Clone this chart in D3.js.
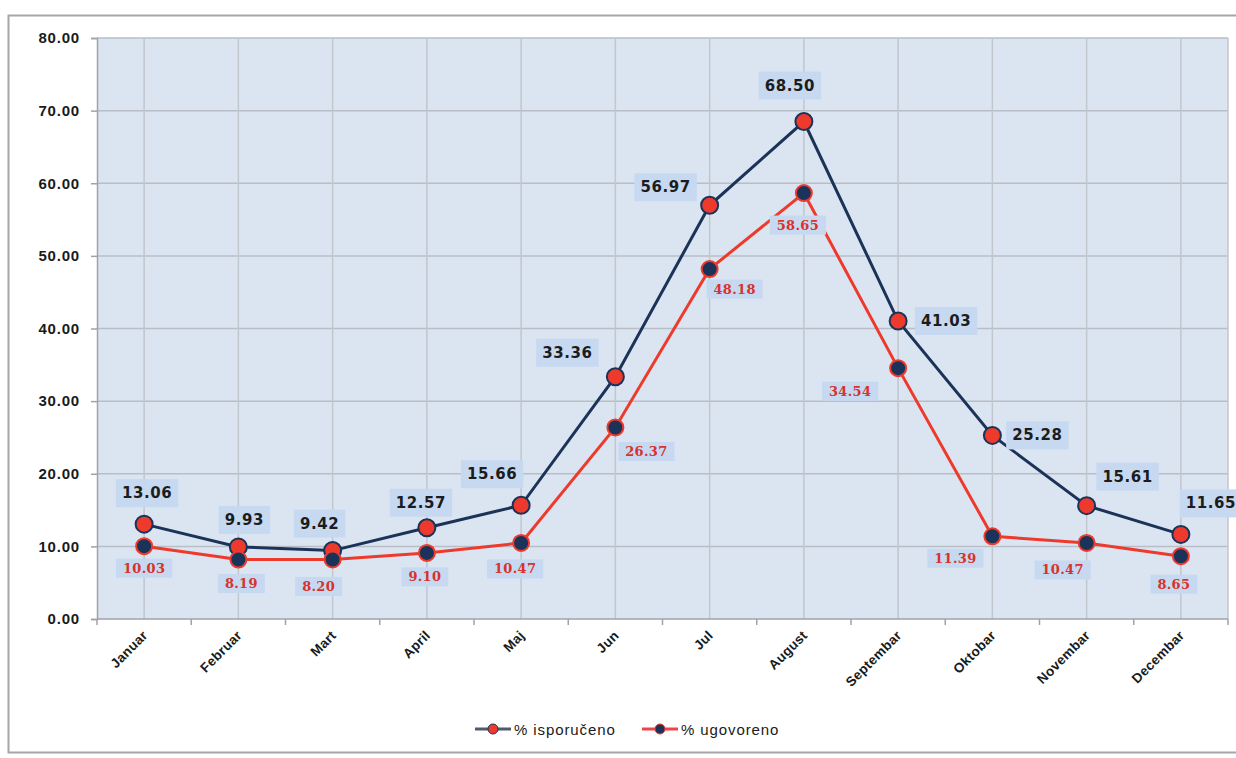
<!DOCTYPE html>
<html>
<head>
<meta charset="utf-8">
<script src="https://cdn.jsdelivr.net/npm/d3@7/dist/d3.min.js"></script>
<style>
  html, body { margin: 0; padding: 0; background: #ffffff; }
  svg { display: block; }
</style>
</head>
<body>
<svg id="chart" width="1236" height="758"></svg>
<script>
// Monthly percentages
const months = ["Januar", "Februar", "Mart", "April", "Maj", "Jun", "Jul", "August", "Septembar", "Oktobar", "Novembar", "Decembar"];
const isporuceno = [13.06, 9.93, 9.42, 12.57, 15.66, 33.36, 56.97, 68.50, 41.03, 25.28, 15.61, 11.65];
const ugovoreno = [10.03, 8.19, 8.20, 9.10, 10.47, 26.37, 48.18, 58.65, 34.54, 11.39, 10.47, 8.65];
const yTicks = [0, 10, 20, 30, 40, 50, 60, 70, 80];
const seriesNames = ["% isporučeno", "% ugovoreno"];

// Label placement around each point (pixel offsets of the label centre)
const isporucenoLabelOffset = [[3, -31], [6, -27], [-13, -27], [-6, -25], [-29, -31], [-48, -24], [-44, -18], [-14, -36], [48, 0], [45, 0], [41, -29], [30, -31]];
const ugovorenoLabelOffset = [[0, 22], [3, 24], [-14, 27], [-2, 24], [-6, 26], [31, 24], [25, 20], [-6, 32], [-48, 23], [-37, 22], [-24, 27], [-7, 28]];

const svg = d3.select("#chart");
const W = 1236, H = 758;
const margin = { left: 97, right: 8, top: 38, bottom: 139 };
const plotW = W - margin.left - margin.right;
const plotH = H - margin.top - margin.bottom;

const navy = "#1b3358";
const red = "#ee3a2c";

// Outer frame
svg.append("rect")
  .attr("x", 8.5).attr("y", 15.5)
  .attr("width", W + 10).attr("height", 737)
  .attr("fill", "#ffffff")
  .attr("stroke", "#a6a6a6")
  .attr("stroke-width", 2);

const g = svg.append("g").attr("transform", `translate(${margin.left},${margin.top})`);

const x = d3.scaleBand().domain(months).range([0, plotW]);
const y = d3.scaleLinear().domain([0, 80]).range([plotH, 0]);
const cx = m => x(m) + x.bandwidth() / 2;

// Plot background
g.append("rect")
  .attr("x", 0).attr("y", 0)
  .attr("width", plotW).attr("height", plotH)
  .attr("fill", "#dbe5f1");

// Horizontal grid
g.append("g").selectAll("line").data(yTicks.filter(t => t > 0)).join("line")
  .attr("x1", 0).attr("x2", plotW)
  .attr("y1", d => y(d)).attr("y2", d => y(d))
  .attr("stroke", "#b9bec6").attr("stroke-width", 1.5);

// Vertical grid through each month
g.append("g").selectAll("line").data(months).join("line")
  .attr("x1", d => cx(d)).attr("x2", d => cx(d))
  .attr("y1", 0).attr("y2", plotH)
  .attr("stroke", "#c2c6cd").attr("stroke-width", 1.5);

// Right border of the plot
g.append("line")
  .attr("x1", plotW).attr("x2", plotW).attr("y1", 0).attr("y2", plotH)
  .attr("stroke", "#c2c6cd").attr("stroke-width", 1.5);

// Y axis
const yAxis = g.append("g")
  .call(d3.axisLeft(y).tickValues(yTicks).tickFormat(d3.format(".2f")).tickSize(6).tickPadding(11));
yAxis.select(".domain").attr("stroke", "#9ea3aa").attr("stroke-width", 1.5);
yAxis.selectAll(".tick line").attr("stroke", "#9ea3aa").attr("stroke-width", 1.5);
yAxis.selectAll(".tick text")
  .attr("font-family", "Liberation Sans, Arial, sans-serif")
  .attr("font-weight", "bold")
  .attr("font-size", 15)
  .attr("letter-spacing", 0.8)
  .attr("fill", "#1a1a1a");

// X axis: ticks at month boundaries, labels under month centres
const xAxis = g.append("g").attr("transform", `translate(0,${plotH})`);
xAxis.append("line")
  .attr("x1", 0).attr("x2", plotW)
  .attr("stroke", "#9ea3aa").attr("stroke-width", 1.5);
xAxis.selectAll("line.tk").data(d3.range(months.length + 1)).join("line")
  .attr("class", "tk")
  .attr("x1", i => i * x.step()).attr("x2", i => i * x.step())
  .attr("y1", 0).attr("y2", 6)
  .attr("stroke", "#9ea3aa").attr("stroke-width", 1.5);
xAxis.selectAll("text").data(months).join("text")
  .attr("transform", d => `translate(${cx(d) + 1},${14}) rotate(-45)`)
  .attr("text-anchor", "end")
  .attr("dy", "0.35em")
  .attr("font-family", "Liberation Sans, Arial, sans-serif")
  .attr("font-weight", "bold")
  .attr("font-size", 13.5)
  .attr("letter-spacing", 0.3)
  .attr("fill", "#1a1a1a")
  .text(d => d);

const line = d3.line().x((d, i) => cx(months[i])).y(d => y(d));

// Series lines
g.append("path").datum(isporuceno)
  .attr("d", line).attr("fill", "none")
  .attr("stroke", navy).attr("stroke-width", 3);
g.append("path").datum(ugovoreno)
  .attr("d", line).attr("fill", "none")
  .attr("stroke", red).attr("stroke-width", 3);

// Markers
g.append("g").selectAll("circle").data(isporuceno).join("circle")
  .attr("cx", (d, i) => cx(months[i])).attr("cy", d => y(d))
  .attr("r", 8.5)
  .attr("fill", red).attr("stroke", navy).attr("stroke-width", 2);
g.append("g").selectAll("circle").data(ugovoreno).join("circle")
  .attr("cx", (d, i) => cx(months[i])).attr("cy", d => y(d))
  .attr("r", 8)
  .attr("fill", navy).attr("stroke", red).attr("stroke-width", 2);

// Data labels with shaded boxes
function drawLabels(values, offsets, opts) {
  const lg = g.append("g");
  values.forEach((v, i) => {
    const px = cx(months[i]) + offsets[i][0];
    const py = y(v) + offsets[i][1];
    const grp = lg.append("g");
    const box = grp.append("rect").attr("fill", "#c6d9f1");
    const t = grp.append("text")
      .attr("x", px).attr("y", py)
      .attr("text-anchor", "middle")
      .attr("dominant-baseline", "central")
      .attr("font-family", opts.font)
      .attr("font-weight", "bold")
      .attr("font-size", opts.size)
      .attr("letter-spacing", opts.spacing)
      .attr("fill", opts.color)
      .text(d3.format(".2f")(v));
    const bb = t.node().getBBox();
    box.attr("x", bb.x - opts.padX).attr("y", py - opts.boxH / 2)
      .attr("width", bb.width + 2 * opts.padX).attr("height", opts.boxH);
  });
}
drawLabels(isporuceno, isporucenoLabelOffset, { font: "DejaVu Sans, Verdana, sans-serif", size: 15, spacing: 0.6, color: "#1c1c1c", padX: 6, boxH: 28 });
drawLabels(ugovoreno, ugovorenoLabelOffset, { font: "DejaVu Serif, Georgia, serif", size: 13, spacing: 0.3, color: "#d8322b", padX: 7, boxH: 19 });

// Legend
const legend = svg.append("g").attr("transform", "translate(0,729)");
const legendItems = [
  { name: seriesNames[0], x0: 475, line: "#4e5a6e", fill: red, stroke: navy },
  { name: seriesNames[1], x0: 642, line: "#f0444a", fill: navy, stroke: red }
];
legendItems.forEach(it => {
  legend.append("line")
    .attr("x1", it.x0).attr("x2", it.x0 + 36)
    .attr("y1", 0).attr("y2", 0)
    .attr("stroke", it.line).attr("stroke-width", 3);
  legend.append("circle")
    .attr("cx", it.x0 + 18).attr("cy", 0).attr("r", 5)
    .attr("fill", it.fill).attr("stroke", it.stroke).attr("stroke-width", 1);
  legend.append("text")
    .attr("x", it.x0 + 39).attr("y", 0)
    .attr("dominant-baseline", "central")
    .attr("font-family", "Liberation Sans, Arial, sans-serif")
    .attr("font-size", 15)
    .attr("letter-spacing", 0.9)
    .attr("fill", "#1a1a1a")
    .text(it.name);
});
</script>
</body>
</html>
